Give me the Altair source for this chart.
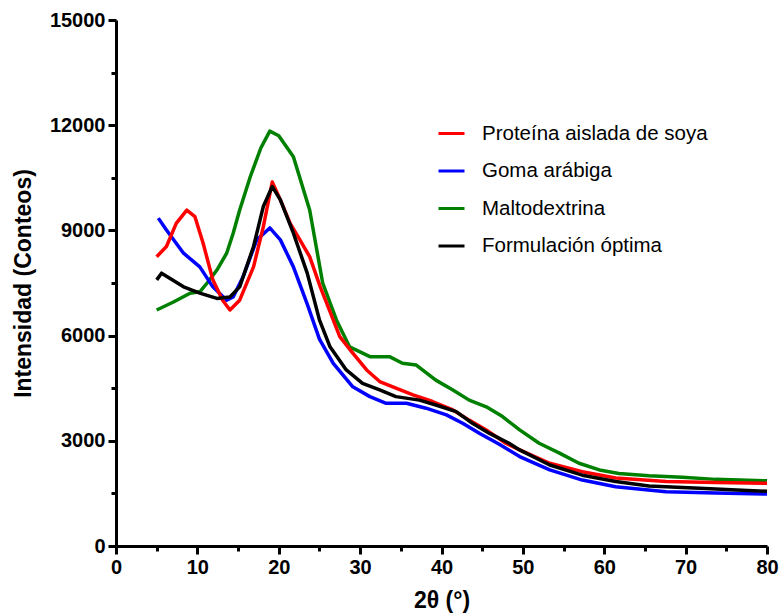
import altair as alt
import pandas as pd

SERIES = ["Proteína aislada de soya", "Goma arábiga", "Maltodextrina", "Formulación óptima"]
COLORS = ["#FF0000", "#0000FF", "#008000", "#000000"]

red_x = [5.0, 6.2, 7.4, 8.7, 9.7, 10.7, 11.9, 13.1, 14.0, 15.2, 16.9, 18.1, 19.2, 20.2, 21.4, 22.6, 23.8,
         25.1, 25.9, 27.5, 29.1, 30.8, 32.4, 34.4, 36.5, 38.9, 41.4, 43.4, 45.5, 47.9, 49.6, 53.3, 57.3,
         61.4, 67.6, 73.7, 80.0]
red_y = [8250, 8540, 9200, 9580, 9390, 8640, 7590, 7010, 6730, 7010, 7960, 9100, 10380, 9870, 9200, 8730, 8250,
         7390, 6920, 5970, 5500, 5020, 4690, 4500, 4310, 4120, 3880, 3590, 3310, 2930, 2740, 2360, 2120,
         1940, 1840, 1810, 1790]

blue_x = [5.2, 6.2, 8.3, 10.3, 11.9, 13.6, 14.4, 15.6, 17.3, 18.9, 20.2, 21.8, 23.5, 25.0, 26.7, 29.1,
          31.2, 33.2, 35.7, 38.1, 40.6, 42.6, 44.7, 47.1, 49.6, 53.3, 57.3, 61.4, 67.6, 73.7, 80.0]
blue_y = [9350, 9010, 8350, 7960, 7390, 7010, 7100, 7670, 8730, 9070, 8730, 7960, 6900, 5900, 5210, 4540,
          4260, 4070, 4070, 3930, 3740, 3500, 3210, 2900, 2550, 2170, 1880, 1690, 1550, 1510, 1480]

green_x = [5.0, 7.0, 9.1, 10.3, 11.2, 12.4, 13.6, 14.4, 15.2, 16.5, 17.8, 18.9, 20.0, 21.8, 23.8, 25.4,
           27.1, 28.7, 31.2, 33.6, 35.2, 36.9, 39.3, 41.4, 43.4, 45.5, 47.5, 49.6, 52.0, 54.5, 56.9, 59.4,
           61.8, 65.5, 69.6, 73.7, 80.0]
green_y = [6730, 6950, 7210, 7250, 7500, 7870, 8350, 8920, 9580, 10530, 11350, 11830, 11700, 11100, 9580, 7500,
           6440, 5680, 5400, 5400, 5210, 5160, 4730, 4450, 4160, 3970, 3690, 3310, 2930, 2650, 2360, 2170,
           2070, 2000, 1960, 1900, 1860]

black_x = [5.0, 5.6, 8.3, 10.3, 12.4, 14.0, 15.2, 16.9, 18.1, 19.2, 20.2, 21.8, 23.5, 25.0, 26.3, 28.3,
           30.3, 32.4, 34.4, 37.3, 39.3, 41.8, 43.8, 45.9, 48.3, 49.6, 53.3, 57.3, 61.4, 65.5, 71.7, 80.0]
black_y = [7590, 7780, 7390, 7210, 7060, 7100, 7390, 8540, 9680, 10250, 9870, 8920, 7780, 6450, 5680, 5020,
           4640, 4450, 4260, 4160, 4020, 3830, 3500, 3210, 2930, 2740, 2310, 2020, 1840, 1710, 1650, 1560]

X_TICKS = list(range(0, 81, 5))
Y_TICKS = list(range(0, 15001, 1500))

# drawing order: green, blue, red, black (black on top)
frames = []
for order, (name, xs, ys) in enumerate([
    (SERIES[2], green_x, green_y),
    (SERIES[1], blue_x, blue_y),
    (SERIES[0], red_x, red_y),
    (SERIES[3], black_x, black_y),
]):
    frames.append(pd.DataFrame({"x": xs, "y": ys, "serie": name, "o": order}))
df = pd.concat(frames, ignore_index=True)

FONT = "Liberation Sans"

chart = alt.Chart(df).mark_line(strokeWidth=3.5, strokeJoin="round").encode(
    x=alt.X("x:Q",
            scale=alt.Scale(domain=[0, 80], nice=False, zero=False),
            axis=alt.Axis(values=X_TICKS,
                          labelExpr="datum.value % 10 === 0 ? datum.label : ''",
                          tickSize={"condition": {"test": "datum.value % 10 === 0", "value": 8}, "value": 5},
                          title="2θ (°)", titlePadding=12, labelPadding=3,
                          labelFlush=False, labelOverlap=False)),
    y=alt.Y("y:Q",
            scale=alt.Scale(domain=[0, 15000], nice=False),
            axis=alt.Axis(values=Y_TICKS, format="d",
                          labelExpr="datum.value % 3000 === 0 ? datum.label : ''",
                          tickSize={"condition": {"test": "datum.value % 3000 === 0", "value": 8}, "value": 5},
                          title="Intensidad (Conteos)", titlePadding=14, labelPadding=3,
                          labelOverlap=False, labelFlush=False)),
    color=alt.Color("serie:N",
                    scale=alt.Scale(domain=SERIES, range=COLORS),
                    legend=alt.Legend(orient="none", legendX=321, legendY=99, title=None,
                                      symbolType="stroke", symbolSize=676, symbolStrokeWidth=3,
                                      labelFontSize=20.5, labelFont=FONT, labelOffset=16, labelLimit=0,
                                      rowPadding=12.5, padding=0, labelColor="black")),
    detail="serie:N",
    order="x:Q",
).properties(
    width=651, height=526,
    autosize=alt.AutoSizeParams(type="none"),
    padding={"left": 116, "top": 20, "right": 15, "bottom": 69},
).configure(font=FONT).configure_view(stroke=None).configure_axis(
    grid=False,
    domainColor="black", domainWidth=3,
    tickColor="black", tickWidth=3,
    labelColor="black", labelFont=FONT, labelFontSize=20, labelFontWeight="bold",
    titleColor="black", titleFont=FONT, titleFontSize=23, titleFontWeight="bold",
)

chart.save("out.html", embed_options={"renderer": "svg", "actions": False})
